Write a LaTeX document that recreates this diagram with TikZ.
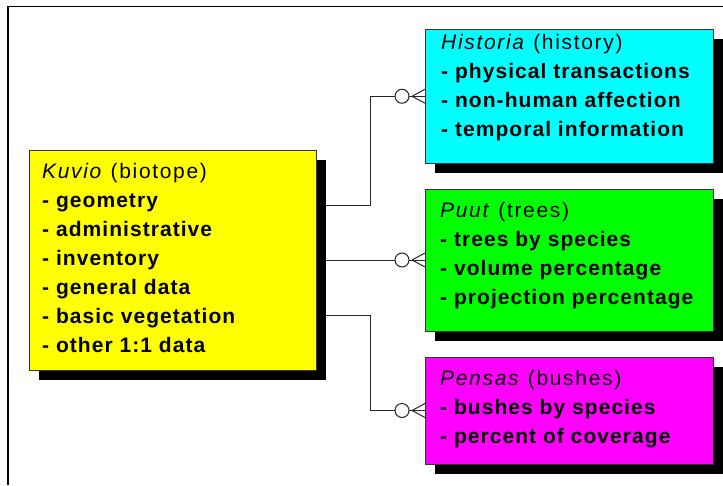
\documentclass[tikz,border=0pt]{standalone}
\usepackage{fontspec}
\setmainfont{Liberation Sans}
\newfontfamily\itemfont[LetterSpace=5]{Liberation Sans}
\newfontfamily\headfont[LetterSpace=8]{Liberation Sans}
\usetikzlibrary{shadows}
\pgfdeclarelayer{links}
\pgfsetlayers{links,main}
\definecolor{entyellow}{RGB}{255,255,0}
\definecolor{entcyan}{RGB}{0,255,255}
\definecolor{entgreen}{RGB}{0,255,0}
\definecolor{entmagenta}{RGB}{255,0,255}

\begin{document}
\begin{tikzpicture}[x=1pt,y=-1pt,
  entity/.style={draw=black!80, line width=0.8pt, anchor=north west,
    inner sep=0pt, outer sep=0pt, minimum width=288pt,
    drop shadow={shadow xshift=9.5pt, shadow yshift=-9.5pt, fill=black, opacity=1}},
  head/.style={anchor=base west, inner sep=0pt, font=\headfont\fontsize{21}{29}\selectfont},
  item/.style={anchor=base west, inner sep=0pt, font=\itemfont\bfseries\fontsize{21}{29}\selectfont},
  link/.style={draw=black!85, line width=1pt},
  frame/.style={line width=1.6pt}]
\useasboundingbox (0,0) rectangle (723,485);

% outer frame
\draw[frame] (7.8,485) -- (7.8,6.6) -- (723,6.6);

% entities
\node[entity, fill=entyellow, minimum width=286.5pt, minimum height=220pt] (kuvio) at (29.5,150) {};
\node[entity, fill=entcyan, minimum height=133.5pt] (hist) at (425,29.5) {};
\node[entity, fill=entgreen, minimum height=142pt] (puut) at (425,189) {};
\node[entity, fill=entmagenta, minimum height=107pt] (pensas) at (425,357) {};

% Kuvio attributes
\node[head] (k0) at (42,178) {\textit{Kuvio} (biotope)};
\node[item] (k1) at (42,207) {- geometry};
\node[item] (k2) at (42,236) {- administrative};
\node[item] (k3) at (42,265) {- inventory};
\node[item] (k4) at (42,294) {- general data};
\node[item] (k5) at (42,323) {- basic vegetation};
\node[item] (k6) at (42,352) {- other 1:1 data};

% Historia attributes
\node[head] (h0) at (441,49) {\textit{Historia} (history)};
\node[item] (h1) at (441,78) {- physical transactions};
\node[item] (h2) at (441,107) {- non-human affection};
\node[item] (h3) at (441,136) {- temporal information};

% Puut attributes
\node[head] (p0) at (440,217) {\textit{Puut} (trees)};
\node[item] (p1) at (440,246) {- trees by species};
\node[item] (p2) at (440,275) {- volume percentage};
\node[item] (p3) at (440,304) {- projection percentage};

% Pensas attributes
\node[head] (b0) at (440,385) {\textit{Pensas} (bushes)};
\node[item] (b1) at (440,414) {- bushes by species};
\node[item] (b2) at (440,443) {- percent of coverage};

% relationship lines
\begin{pgfonlayer}{links}
\coordinate (j1) at (370,205);
\coordinate (j3) at (370,315);
\draw[link] (kuvio.east |- j1) -- (j1) |- (hist.west);
\draw[link] (kuvio.east) -- (puut.west);
\draw[link] (kuvio.east |- j3) -- (j3) |- (pensas.west);
\end{pgfonlayer}

% zero-or-many ends
\foreach \t in {hist,puut,pensas}{
  \draw[link, fill=white] ([xshift=-23pt]\t.west) circle[radius=7pt];
  \draw[link] ([xshift=-13pt]\t.west) -- ([yshift=7pt]\t.west)
              ([xshift=-13pt]\t.west) -- ([yshift=-7pt]\t.west);
}
\end{tikzpicture}
\end{document}
